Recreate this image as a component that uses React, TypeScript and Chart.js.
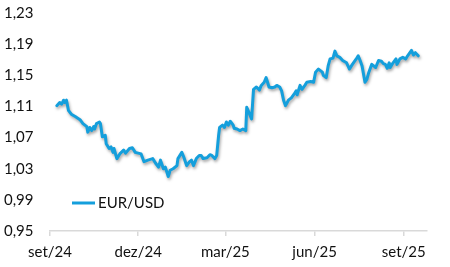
import React, { useEffect, useRef } from "react";
import { Chart, registerables } from "chart.js";

Chart.register(...registerables);

// days since 2024-09-01
const dayOffsets = [
  7, 10, 12, 14, 15, 17, 19, 22, 26, 31, 34, 38, 39, 41, 43, 45, 46, 48, 51, 52,
  54, 57, 58, 61, 63, 65, 66, 69, 72, 76, 78, 82, 85, 88, 91, 94, 97, 101, 106, 109,
  112, 114, 117, 119, 122, 124, 127, 131, 132, 136, 138, 141, 144, 146, 148, 151, 154, 156, 158, 162,
  165, 167, 170, 172, 174, 175, 178, 180, 182, 184, 186, 189, 190, 193, 196, 199, 202, 203, 205, 208,
  210, 213, 216, 218, 221, 223, 224, 226, 229, 232, 234, 237, 239, 241, 243, 246, 249, 252, 254, 255,
  258, 260, 263, 265, 269, 272, 274, 277, 279, 281, 282, 285, 287, 289, 292, 294, 296, 299, 302, 306,
  309, 312, 316, 318, 320, 322, 325, 327, 329, 332, 334, 336, 339, 342, 344, 346, 348, 350, 351, 354,
  357, 358, 361, 364, 367, 369, 373, 375, 377, 380,
];

const eurUsd = [
  1.111, 1.115, 1.113, 1.118, 1.115, 1.118, 1.105, 1.1, 1.097, 1.093, 1.088, 1.084, 1.077, 1.083, 1.079, 1.084, 1.081, 1.088, 1.09, 1.088,
  1.071, 1.073, 1.062, 1.056, 1.058, 1.051, 1.056, 1.043, 1.049, 1.054, 1.05, 1.056, 1.057, 1.051, 1.05, 1.049, 1.039, 1.041, 1.043, 1.037,
  1.032, 1.041, 1.03, 1.032, 1.02, 1.028, 1.03, 1.034, 1.043, 1.051, 1.045, 1.034, 1.039, 1.041, 1.034, 1.043, 1.047, 1.047, 1.043, 1.044,
  1.048, 1.047, 1.043, 1.047, 1.073, 1.083, 1.086, 1.083, 1.09, 1.086, 1.091, 1.086, 1.082, 1.081, 1.079, 1.081, 1.079, 1.109, 1.103, 1.094,
  1.132, 1.135, 1.131, 1.137, 1.141, 1.147, 1.143, 1.135, 1.134, 1.135, 1.137, 1.135, 1.13, 1.118, 1.111, 1.118, 1.121, 1.126, 1.13, 1.125,
  1.137, 1.132, 1.137, 1.141, 1.142, 1.141, 1.154, 1.158, 1.156, 1.154, 1.15, 1.147, 1.162, 1.171, 1.172, 1.181, 1.175, 1.173, 1.169, 1.166,
  1.158, 1.164, 1.171, 1.175, 1.169, 1.162, 1.141, 1.145, 1.154, 1.164, 1.162, 1.16, 1.169, 1.168, 1.165, 1.164, 1.159, 1.166, 1.16, 1.166,
  1.171, 1.164, 1.171, 1.173, 1.171, 1.175, 1.182, 1.176, 1.179, 1.175,
];

const xTickValues = [0, 91, 181, 273, 365];
const xTickLabels = ["set/24", "dez/24", "mar/25", "jun/25", "set/25"];
const yTickValues = [0.95, 0.99, 1.03, 1.07, 1.11, 1.15, 1.19, 1.23];
const seriesName = "EUR/USD";

const LINE_COLOR = "#149fdc";
const FONT = "Lato, 'Open Sans', sans-serif";
const FONT_SIZE = 15;

export default function App() {
  const ref = useRef<HTMLCanvasElement | null>(null);

  useEffect(() => {
    if (!ref.current) return;

    const shadowPlugin = {
      id: "lineShadow",
      beforeDatasetsDraw(chart: any) {
        const ctx = chart.ctx;
        ctx.save();
        ctx.shadowColor = "rgba(0,0,0,0.35)";
        ctx.shadowBlur = 3;
        ctx.shadowOffsetX = 1;
        ctx.shadowOffsetY = 2;
      },
      afterDatasetsDraw(chart: any) {
        chart.ctx.restore();
      },
    };

    const legendPlugin = {
      id: "innerLegend",
      afterDraw(chart: any) {
        const ctx = chart.ctx;
        const area = chart.chartArea;
        const y = area.bottom - 28;
        const x0 = area.left + 22;
        ctx.save();
        ctx.strokeStyle = LINE_COLOR;
        ctx.lineWidth = 3;
        ctx.beginPath();
        ctx.moveTo(x0, y);
        ctx.lineTo(x0 + 23, y);
        ctx.stroke();
        ctx.fillStyle = "#111";
        ctx.font = `${FONT_SIZE}px ${FONT}`;
        ctx.textBaseline = "middle";
        ctx.textAlign = "left";
        ctx.fillText(chart.data.datasets[0].label, x0 + 26, y);
        ctx.restore();
      },
    };

    const chart = new Chart(ref.current, {
      type: "line",
      data: {
        datasets: [
          {
            label: seriesName,
            data: dayOffsets.map((d, i) => ({ x: d, y: eurUsd[i] })),
            borderColor: LINE_COLOR,
            backgroundColor: LINE_COLOR,
            borderWidth: 3,
            pointRadius: 0,
            tension: 0,
            borderJoinStyle: "round",
            borderCapStyle: "round",
          },
        ],
      },
      options: {
        animation: false,
        responsive: false,
        maintainAspectRatio: false,
        layout: { padding: { left: 4, right: 23, top: 12, bottom: 0 } },
        plugins: {
          legend: { display: false },
          tooltip: { enabled: false },
        },
        scales: {
          x: {
            type: "linear",
            min: 0,
            max: 389,
            afterBuildTicks(scale: any) {
              scale.ticks = xTickValues.map((v) => ({ value: v }));
            },
            afterFit(scale: any) {
              scale.height = 36;
            },
            ticks: {
              autoSkip: false,
              maxRotation: 0,
              padding: 7,
              color: "#111",
              font: { family: FONT, size: FONT_SIZE },
              callback: (v: any) => {
                const i = xTickValues.indexOf(Number(v));
                return i >= 0 ? xTickLabels[i] : "";
              },
            },
            grid: {
              display: true,
              drawOnChartArea: false,
              drawTicks: true,
              tickLength: 5,
              color: "#d9d9d9",
              lineWidth: 1.5,
            },
            border: { display: true, color: "#d9d9d9", width: 1.5 },
          },
          y: {
            min: 0.95,
            max: 1.23,
            afterBuildTicks(scale: any) {
              scale.ticks = yTickValues.map((v) => ({ value: v }));
            },
            afterFit(scale: any) {
              scale.width = 46;
            },
            ticks: {
              crossAlign: "far",
              padding: 4,
              color: "#111",
              font: { family: FONT, size: FONT_SIZE },
              callback: (v: any) => Number(v).toFixed(2).replace(".", ","),
            },
            grid: { display: false },
            border: { display: false },
          },
        },
      },
      plugins: [shadowPlugin, legendPlugin],
    });

    return () => chart.destroy();
  }, []);

  return (
    <div style={{ position: "fixed", left: 0, top: 0, width: 450, height: 267, background: "#fff" }}>
      <canvas ref={ref} width={450} height={267} style={{ width: 450, height: 267 }} />
    </div>
  );
}
